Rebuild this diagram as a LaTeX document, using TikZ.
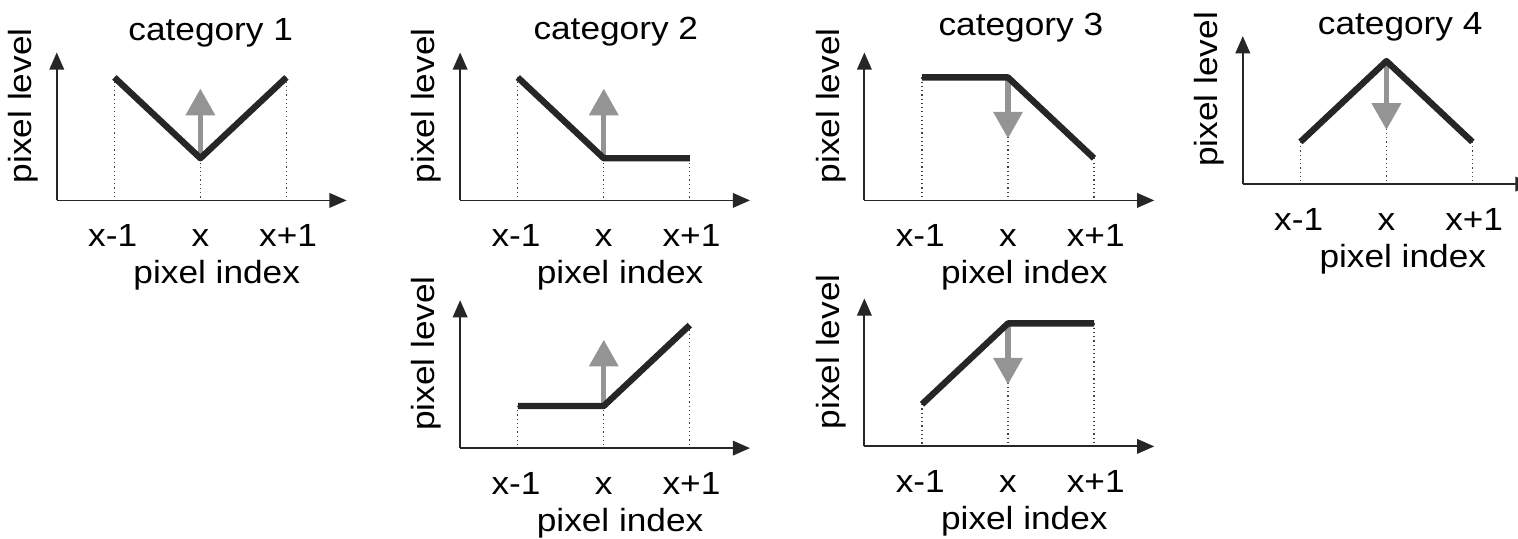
\documentclass[tikz,border=0pt]{standalone}
\usepackage{fontspec}
\setmainfont{Liberation Sans}[FakeStretch=1.1]
\usetikzlibrary{arrows.meta, calc}

\begin{document}
\begin{tikzpicture}[>={Triangle[length=0.2cm, width=0.17cm]},
    font=\fontsize{10.6}{12}\selectfont,
    axis/.style={->, line width=0.6pt, black!85},
    curve/.style={line width=2.1pt, black!85, line join=round},
    guide/.style={densely dotted, line width=0.4pt, black!75},
    tick/.style={text height=0.72em, text depth=0pt},
    levelarrow/.style={-{Triangle[length=0.31cm, width=0.33cm]}, line width=1.8pt, black!42}]
  \clip (0,0) rectangle (17.65,-6.256);

  % Panels: name/origin/levels at x-1, x, x+1/arrow tip
  \foreach \n/\ox/\oy/\a/\b/\c/\t in {
      p1/0.66/-2.33/1.43/0.49/1.43/1.30,
      p2/5.35/-2.33/1.43/0.49/0.49/1.30,
      p5/5.35/-5.21/0.49/0.49/1.43/1.26,
      p3/10.05/-2.33/1.43/1.43/0.49/0.72,
      p6/10.05/-5.19/0.49/1.43/1.43/0.72,
      p4/14.45/-2.14/0.49/1.43/0.49/0.63}
  {
    \begin{scope}[shift={(\ox,\oy)}]
      % Nodes
      \coordinate (o\n) at (0,0);
      \coordinate (xe\n) at (3.37,0);
      \coordinate (ye\n) at (0,1.72);
      \coordinate (a\n) at (0.67,\a);
      \coordinate (b\n) at (1.67,\b);
      \coordinate (c\n) at (2.67,\c);
      \coordinate (t\n) at (1.67,\t);
      \node[rotate=90] (lvl\n) at (-0.39,1.10) {pixel level};
      \node[tick] (ta\n) at (0.65,-0.41) {x-1};
      \node[tick] (tb\n) at (1.67,-0.41) {x};
      \node[tick] (tc\n) at (2.69,-0.41) {x+1};
      \node (idx\n) at (1.86,-0.87) {pixel index};

      % Edges
      \draw[guide] (a\n) -- (a\n |- o\n);
      \draw[guide] (b\n) -- (b\n |- o\n);
      \draw[guide] (c\n) -- (c\n |- o\n);
      \draw[axis] (o\n) -- (xe\n);
      \draw[axis] (o\n) -- (ye\n);
      \draw[levelarrow] (b\n) -- (t\n);
      \draw[curve] (a\n) -- (b\n) -- (c\n);
    \end{scope}
  }

  % Titles
  \node (cat1) at (2.45,-0.38) {category 1};
  \node (cat2) at (7.16,-0.37) {category 2};
  \node (cat3) at (11.87,-0.32) {category 3};
  \node (cat4) at (16.28,-0.31) {category 4};
\end{tikzpicture}
\end{document}
